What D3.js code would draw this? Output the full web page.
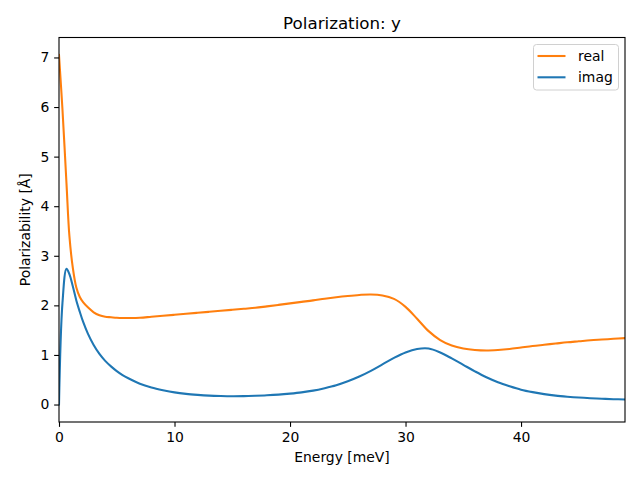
<!DOCTYPE html>
<html>
<head>
<meta charset="utf-8">
<script src="https://cdn.jsdelivr.net/npm/d3@7"></script>
<style>
  html, body { margin: 0; padding: 0; background: #fff; }
  svg { display: block; font-family: "DejaVu Sans", sans-serif; }
</style>
</head>
<body>
<svg id="chart" width="640" height="480"></svg>
<script>
const energy = [0, 0.3, 0.65, 0.9, 1.2, 1.5, 1.8, 2.1, 2.5, 3, 3.5, 4, 4.5, 5, 5.5, 6, 7, 8, 9, 10,
  11, 12, 13, 14, 15, 16, 17, 18, 19, 20, 21, 22, 23, 24, 25, 26, 27, 28, 29, 30,
  31, 32, 33, 34, 35, 36, 37, 38, 39, 40, 41, 42, 43, 44, 45, 46, 47, 48, 49];

const realValues = [7.05, 5.95, 4.45, 3.4, 2.75, 2.36, 2.17, 2.06, 1.96, 1.86, 1.80, 1.77, 1.76, 1.75, 1.745, 1.745, 1.75, 1.77, 1.79, 1.81,
  1.83, 1.85, 1.87, 1.89, 1.91, 1.93, 1.95, 1.98, 2.01, 2.04, 2.07, 2.10, 2.135, 2.165, 2.19, 2.21, 2.22, 2.20, 2.13, 1.97,
  1.73, 1.48, 1.30, 1.19, 1.13, 1.10, 1.09, 1.10, 1.12, 1.15, 1.18, 1.205, 1.23, 1.255, 1.275, 1.295, 1.31, 1.325, 1.34];

const imagValues = [0, 2.05, 2.74, 2.63, 2.38, 2.10, 1.87, 1.66, 1.43, 1.20, 1.02, 0.88, 0.77, 0.675, 0.595, 0.53, 0.42, 0.345, 0.29, 0.245,
  0.215, 0.195, 0.18, 0.172, 0.168, 0.17, 0.176, 0.186, 0.20, 0.22, 0.245, 0.28, 0.33, 0.39, 0.47, 0.565, 0.68, 0.81, 0.94, 1.05,
  1.12, 1.13, 1.05, 0.93, 0.80, 0.67, 0.55, 0.45, 0.37, 0.30, 0.25, 0.21, 0.18, 0.158, 0.14, 0.127, 0.117, 0.108, 0.10];

const xTicks = [0, 10, 20, 30, 40];
const yTicks = [0, 1, 2, 3, 4, 5, 6, 7];
const seriesNames = ["real", "imag"];
const seriesColors = ["#ff7f0e", "#1f77b4"];

const svg = d3.select("#chart");
const mLeft = 59, mRight = 625, mTop = 37.5, mBottom = 422;

const x = d3.scaleLinear().domain([0, 49]).range([mLeft, mRight]);
const y = d3.scaleLinear().domain([-0.3525, 7.4025]).range([mBottom, mTop]);

// clip
svg.append("defs").append("clipPath").attr("id", "clip")
  .append("rect").attr("x", mLeft).attr("y", mTop).attr("width", mRight - mLeft).attr("height", mBottom - mTop);

const line = d3.line().x(d => x(d[0])).y(d => y(d[1])).curve(d3.curveCatmullRom.alpha(0.5));

const series = [realValues, imagValues];
series.forEach((vals, i) => {
  svg.append("path")
    .datum(energy.map((e, j) => [e, vals[j]]))
    .attr("clip-path", "url(#clip)")
    .attr("fill", "none")
    .attr("stroke", seriesColors[i])
    .attr("stroke-width", 2.08)
    .attr("stroke-linejoin", "round")
    .attr("stroke-linecap", "square")
    .attr("d", line);
});

// axes
const xAxis = d3.axisBottom(x).tickValues(xTicks).tickSize(4.86).tickPadding(4.86).tickFormat(d3.format("d"));
const yAxis = d3.axisLeft(y).tickValues(yTicks).tickSize(4.86).tickPadding(4.86).tickFormat(d3.format("d"));

const gx = svg.append("g").attr("transform", `translate(0,${mBottom})`).call(xAxis);
const gy = svg.append("g").attr("transform", `translate(${mLeft},0)`).call(yAxis);
[gx, gy].forEach(g => {
  g.select(".domain").remove();
  g.selectAll("line").attr("stroke", "#000").attr("stroke-width", 1.1);
  g.selectAll("text").attr("fill", "#000").style("font-size", "13.9px").style("font-family", "DejaVu Sans");
});

// frame
svg.append("rect").attr("x", mLeft).attr("y", mTop).attr("width", mRight - mLeft).attr("height", mBottom - mTop)
  .attr("fill", "none").attr("stroke", "#000").attr("stroke-width", 1.1);

// title & labels
svg.append("text").attr("x", (mLeft + mRight) / 2).attr("y", 28.5).attr("text-anchor", "middle")
  .style("font-size", "16.7px").text("Polarization: y");
svg.append("text").attr("x", (mLeft + mRight) / 2).attr("y", 461.5).attr("text-anchor", "middle")
  .style("font-size", "13.9px").text("Energy [meV]");
svg.append("text").attr("transform", `translate(30,${(mTop + mBottom) / 2}) rotate(-90)`).attr("text-anchor", "middle")
  .style("font-size", "13.9px").text("Polarizability [Å]");

// legend
const lg = svg.append("g");
lg.append("rect").attr("x", 533.5).attr("y", 44.5).attr("width", 85).attr("height", 45.5).attr("rx", 3)
  .attr("fill", "#fff").attr("fill-opacity", 0.8).attr("stroke", "#d0d0d0").attr("stroke-width", 1);
seriesNames.forEach((name, i) => {
  const ly = 56 + i * 21.3;
  lg.append("line").attr("x1", 537.5).attr("x2", 565.5).attr("y1", ly).attr("y2", ly)
    .attr("stroke", seriesColors[i]).attr("stroke-width", 2.08);
  lg.append("text").attr("x", 578).attr("y", ly + 5).style("font-size", "13.9px").text(name);
});
</script>
</body>
</html>
